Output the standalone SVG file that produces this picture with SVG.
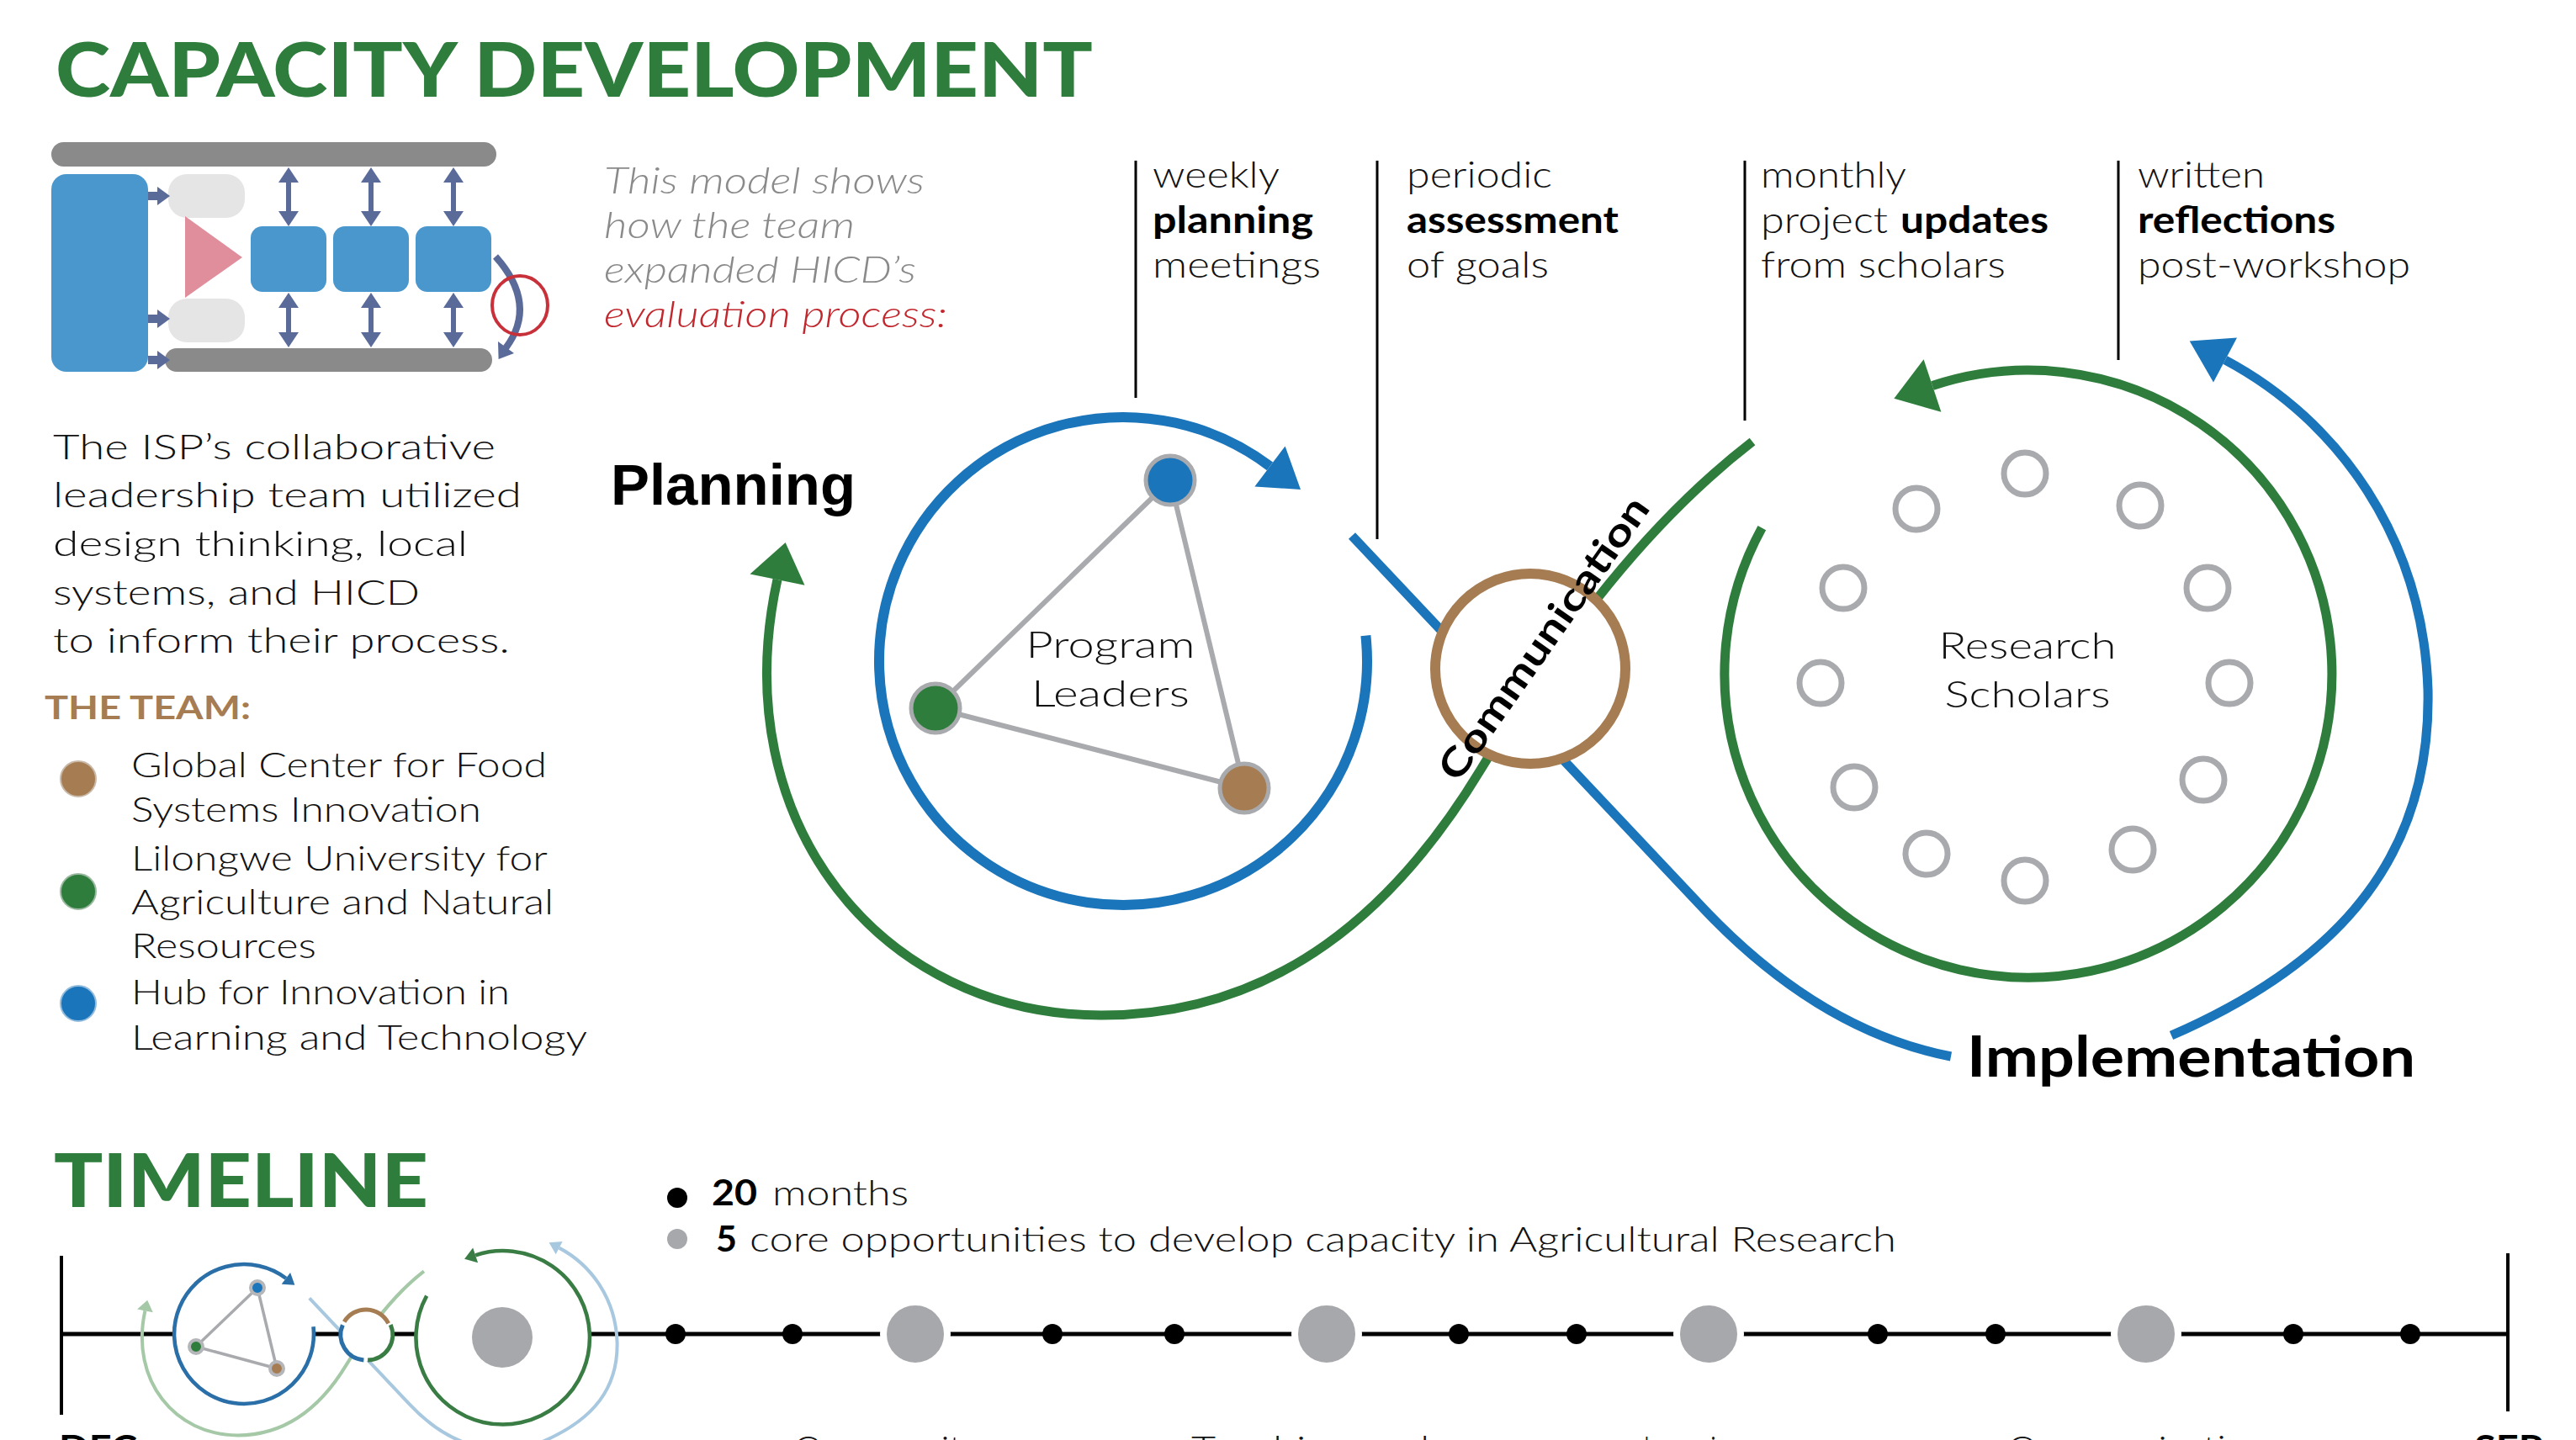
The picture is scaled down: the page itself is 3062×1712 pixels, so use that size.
<svg xmlns="http://www.w3.org/2000/svg" xmlns:xlink="http://www.w3.org/1999/xlink" width="3062" height="1712" viewBox="0 0 3062 1712">
<style>
.lt{font-family:Lato,'Open Sans','Liberation Sans',sans-serif;font-weight:300;fill:#111}
.bd{font-family:Lato,'Open Sans','Liberation Sans',sans-serif;font-weight:700;fill:#000}
.ttl{font-family:Lato,'Liberation Sans',sans-serif;font-weight:900;fill:#2e7d3c}
.ar{font-family:'Liberation Sans',Arial,sans-serif;font-weight:700;fill:#000}
.vl{stroke:#000;stroke-width:3;fill:none}
.edge{stroke:#a9aaad;stroke-width:6;fill:none}
.node{stroke:#a9aaad;stroke-width:5}
.sch{fill:none;stroke:#a9aaad;stroke-width:7}
.icoar{fill:#5a6a99}
</style>
<defs>
<path id="p-bluearc" d="M 1623.4,755.7 A 290 290 0 1 1 1509.5,554.4"/>
<polygon id="p-bluehead" points="1527.6,530.4 1491.4,578.4 1546,582"/>
<path id="p-greenS" d="M 924,689 C 860,980 1050,1207 1309,1207 C 1520,1207 1660,1080 1760,915 C 1860,750 1960,620 2083,525"/>
<polygon id="p-greenShead" points="933.6,645 891.5,682.5 956.5,695.7"/>
<path id="p-blueS1" d="M 1607,637 L 2020,1075 Q 2160,1225 2319,1256"/>
<path id="p-blueS2" d="M 2581,1231 C 2790,1140 2890,1010 2886,820 C 2880,640 2780,500 2645,428"/>
<polygon id="p-blueShead" points="2602.7,405.4 2659,401.5 2631,454.5"/>
<path id="p-greenarc" d="M 2094.3,627.6 A 361 361 0 1 0 2297,458.5"/>
<polygon id="p-greenhead" points="2251.4,473.7 2307.4,489.8 2286.6,427.2"/>
</defs>
<rect width="3062" height="1712" fill="#fff"/>

<text class="ttl" x="66" y="115" font-size="90" textLength="1233" lengthAdjust="spacingAndGlyphs">CAPACITY DEVELOPMENT</text>

<g id="model-icon">
<rect x="61" y="169" width="529" height="29" rx="14.5" fill="#8a8a8a"/>
<rect x="196" y="414" width="389" height="28" rx="14" fill="#8a8a8a"/>
<rect x="61" y="207" width="115" height="235" rx="18" fill="#4a97cd"/>
<rect x="200" y="207" width="91" height="52" rx="22" fill="#e5e5e6"/>
<rect x="200" y="355" width="91" height="52" rx="22" fill="#e5e5e6"/>
<polygon points="220,257 288,306 220,354" fill="#e18e9c"/>
<rect x="298" y="269" width="90" height="78" rx="14" fill="#4a97cd"/>
<rect x="396" y="269" width="90" height="78" rx="14" fill="#4a97cd"/>
<rect x="494" y="269" width="90" height="78" rx="14" fill="#4a97cd"/>
<g class="icoar">
<rect x="176" y="228" width="13" height="10"/><polygon points="187,222 202,233 187,244"/>
<rect x="176" y="374" width="13" height="10"/><polygon points="187,368 202,379 187,390"/>
<rect x="176" y="423" width="13" height="10"/><polygon points="187,417 202,428 187,439"/>
<rect x="340" y="214" width="6" height="40"/><polygon points="331,217 343,199 355,217"/><polygon points="331,251 343,269 355,251"/>
<rect x="438" y="214" width="6" height="40"/><polygon points="429,217 441,199 453,217"/><polygon points="429,251 441,269 453,251"/>
<rect x="536" y="214" width="6" height="40"/><polygon points="527,217 539,199 551,217"/><polygon points="527,251 539,269 551,251"/>
<rect x="340" y="363" width="6" height="35"/><polygon points="331,366 343,348 355,366"/><polygon points="331,395 343,413 355,395"/>
<rect x="438" y="363" width="6" height="35"/><polygon points="429,366 441,348 453,366"/><polygon points="429,395 441,413 453,395"/>
<rect x="536" y="363" width="6" height="35"/><polygon points="527,366 539,348 551,366"/><polygon points="527,395 539,413 551,395"/>
</g>
<path d="M 589,305 Q 640,362 601,414" fill="none" stroke="#5a6a99" stroke-width="8"/>
<polygon points="592.6,427 611,420 592,406" fill="#5a6a99"/>
<ellipse cx="618" cy="363" rx="33" ry="35" fill="none" stroke="#c8303a" stroke-width="4"/>
</g>

<g id="intro-text" class="lt" font-size="44" font-style="italic">
<text x="718" y="230" fill="#8a8a8a" style="fill:#8a8a8a" textLength="381" lengthAdjust="spacingAndGlyphs">This model shows</text>
<text x="718" y="283" style="fill:#8a8a8a" textLength="298" lengthAdjust="spacingAndGlyphs">how the team</text>
<text x="718" y="336" style="fill:#8a8a8a" textLength="371" lengthAdjust="spacingAndGlyphs">expanded HICD’s</text>
<text x="718" y="389" style="fill:#c1272d" textLength="408" lengthAdjust="spacingAndGlyphs">evaluation process:</text>
</g>

<g id="columns" font-size="43">
<line class="vl" x1="1350" y1="191" x2="1350" y2="473"/>
<line class="vl" x1="1637" y1="191" x2="1637" y2="641"/>
<line class="vl" x1="2074" y1="191" x2="2074" y2="500"/>
<line class="vl" x1="2518" y1="191" x2="2518" y2="428"/>
<text class="lt" x="1370" y="223" textLength="151" lengthAdjust="spacingAndGlyphs">weekly</text>
<text class="bd" x="1370" y="277" textLength="191" lengthAdjust="spacingAndGlyphs">planning</text>
<text class="lt" x="1370" y="330" textLength="200" lengthAdjust="spacingAndGlyphs">meetings</text>
<text class="lt" x="1672" y="223" textLength="173" lengthAdjust="spacingAndGlyphs">periodic</text>
<text class="bd" x="1672" y="277" textLength="252" lengthAdjust="spacingAndGlyphs">assessment</text>
<text class="lt" x="1672" y="330" textLength="169" lengthAdjust="spacingAndGlyphs">of goals</text>
<text class="lt" x="2093" y="223" textLength="173" lengthAdjust="spacingAndGlyphs">monthly</text>
<text class="lt" x="2093" y="277" textLength="151" lengthAdjust="spacingAndGlyphs">project</text>
<text class="bd" x="2259" y="277" textLength="176" lengthAdjust="spacingAndGlyphs">updates</text>
<text class="lt" x="2093" y="330" textLength="291" lengthAdjust="spacingAndGlyphs">from scholars</text>
<text class="lt" x="2541" y="223" textLength="151" lengthAdjust="spacingAndGlyphs">written</text>
<text class="bd" x="2541" y="277" textLength="235" lengthAdjust="spacingAndGlyphs">reflections</text>
<text class="lt" x="2541" y="330" textLength="324" lengthAdjust="spacingAndGlyphs">post-workshop</text>
</g>

<g id="intro-paragraph" class="lt" font-size="42">
<text x="63" y="546" textLength="526" lengthAdjust="spacingAndGlyphs">The ISP’s collaborative</text>
<text x="63" y="603" textLength="557" lengthAdjust="spacingAndGlyphs">leadership team utilized</text>
<text x="63" y="661" textLength="493" lengthAdjust="spacingAndGlyphs">design thinking, local</text>
<text x="63" y="719" textLength="436" lengthAdjust="spacingAndGlyphs">systems, and HICD</text>
<text x="63" y="776" textLength="543" lengthAdjust="spacingAndGlyphs">to inform their process.</text>
</g>

<g id="team-legend">
<text class="bd" x="53" y="855" font-size="39" style="fill:#a67c52" textLength="245" lengthAdjust="spacingAndGlyphs">THE TEAM:</text>
<circle cx="93" cy="926" r="21" fill="#a67c52" stroke="#c9b9a8" stroke-width="2"/>
<circle cx="93" cy="1060" r="21" fill="#2e7d3c" stroke="#9bb9a0" stroke-width="2"/>
<circle cx="93" cy="1193" r="21" fill="#1a75bb" stroke="#94bcdc" stroke-width="2"/>
<g class="lt" font-size="42">
<text x="156" y="924" textLength="494" lengthAdjust="spacingAndGlyphs">Global Center for Food</text>
<text x="156" y="977" textLength="416" lengthAdjust="spacingAndGlyphs">Systems Innovation</text>
<text x="156" y="1035" textLength="495" lengthAdjust="spacingAndGlyphs">Lilongwe University for</text>
<text x="156" y="1087" textLength="502" lengthAdjust="spacingAndGlyphs">Agriculture and Natural</text>
<text x="156" y="1139" textLength="220" lengthAdjust="spacingAndGlyphs">Resources</text>
<text x="156" y="1194" textLength="450" lengthAdjust="spacingAndGlyphs">Hub for Innovation in</text>
<text x="156" y="1248" textLength="542" lengthAdjust="spacingAndGlyphs">Learning and Technology</text>
</g>
</g>

<g id="connectors">
<use xlink:href="#p-greenS" fill="none" stroke="#2e7d3c" stroke-width="11"/>
<use xlink:href="#p-greenShead" fill="#2e7d3c"/>
<use xlink:href="#p-blueS1" fill="none" stroke="#1a75bb" stroke-width="11"/>
<use xlink:href="#p-blueS2" fill="none" stroke="#1a75bb" stroke-width="11"/>
<use xlink:href="#p-blueShead" fill="#1a75bb"/>
<use xlink:href="#p-bluearc" fill="none" stroke="#1a75bb" stroke-width="12"/>
<use xlink:href="#p-bluehead" fill="#1a75bb"/>
<use xlink:href="#p-greenarc" fill="none" stroke="#2e7d3c" stroke-width="11"/>
<use xlink:href="#p-greenhead" fill="#2e7d3c"/>
<line class="edge" x1="1391" y1="571" x2="1112" y2="842"/>
<line class="edge" x1="1391" y1="571" x2="1479" y2="937"/>
<line class="edge" x1="1112" y1="842" x2="1479" y2="937"/>
</g>

<g id="program-leaders">
<circle class="node" cx="1391" cy="571" r="29" fill="#1a75bb"/>
<circle class="node" cx="1112" cy="842" r="29" fill="#2e7d3c"/>
<circle class="node" cx="1479" cy="937" r="29" fill="#a67c52"/>
<text class="lt" x="1320" y="782" font-size="44" text-anchor="middle" textLength="201" lengthAdjust="spacingAndGlyphs">Program</text>
<text class="lt" x="1320" y="840" font-size="44" text-anchor="middle" textLength="188" lengthAdjust="spacingAndGlyphs">Leaders</text>
</g>

<g id="research-scholars">
<circle class="sch" cx="2407" cy="563" r="25"/>
<circle class="sch" cx="2544" cy="601" r="25"/>
<circle class="sch" cx="2624" cy="699" r="25"/>
<circle class="sch" cx="2650" cy="812" r="25"/>
<circle class="sch" cx="2619" cy="927" r="25"/>
<circle class="sch" cx="2535" cy="1010" r="25"/>
<circle class="sch" cx="2407" cy="1047" r="25"/>
<circle class="sch" cx="2290" cy="1015" r="25"/>
<circle class="sch" cx="2204" cy="936" r="25"/>
<circle class="sch" cx="2164" cy="812" r="25"/>
<circle class="sch" cx="2191" cy="699" r="25"/>
<circle class="sch" cx="2278" cy="605" r="25"/>
<text class="lt" x="2410" y="783" font-size="44" text-anchor="middle" textLength="211" lengthAdjust="spacingAndGlyphs">Research</text>
<text class="lt" x="2410" y="841" font-size="44" text-anchor="middle" textLength="197" lengthAdjust="spacingAndGlyphs">Scholars</text>
</g>

<g id="communication">
<circle cx="1819" cy="795" r="113" fill="#fff" stroke="#a67c52" stroke-width="12"/>
<text class="bd" x="1848" y="768" font-size="46" text-anchor="middle" transform="rotate(-55 1848 768)" textLength="400" lengthAdjust="spacingAndGlyphs">Communication</text>
</g>

<text id="planning" class="ar" x="726" y="600" font-size="68" textLength="291" lengthAdjust="spacingAndGlyphs">Planning</text>
<text id="implementation" class="bd" x="2338" y="1280" font-size="66" textLength="533" lengthAdjust="spacingAndGlyphs">Implementation</text>

<text class="ttl" x="64" y="1435" font-size="88" textLength="445" lengthAdjust="spacingAndGlyphs">TIMELINE</text>

<g id="timeline-legend" font-size="42">
<circle cx="805" cy="1424" r="12" fill="#000"/>
<text class="bd" x="846" y="1433" textLength="54" lengthAdjust="spacingAndGlyphs">20</text>
<text class="lt" x="918" y="1433" textLength="162" lengthAdjust="spacingAndGlyphs">months</text>
<circle cx="805" cy="1473" r="12" fill="#a7a8ab"/>
<text class="bd" x="851" y="1488" textLength="25" lengthAdjust="spacingAndGlyphs">5</text>
<text class="lt" x="891" y="1488" textLength="1363" lengthAdjust="spacingAndGlyphs">core opportunities to develop capacity in Agricultural Research</text>
</g>

<g id="timeline">
<line x1="73" y1="1586" x2="2980" y2="1586" stroke="#000" stroke-width="5"/>
<line x1="73" y1="1493" x2="73" y2="1682" stroke="#000" stroke-width="4"/>
<line x1="2981" y1="1490" x2="2981" y2="1678" stroke="#000" stroke-width="4"/>
<g fill="#000">
<circle cx="803" cy="1586" r="12"/><circle cx="942" cy="1586" r="12"/>
<circle cx="1251" cy="1586" r="12"/><circle cx="1396" cy="1586" r="12"/>
<circle cx="1734" cy="1586" r="12"/><circle cx="1874" cy="1586" r="12"/>
<circle cx="2232" cy="1586" r="12"/><circle cx="2372" cy="1586" r="12"/>
<circle cx="2726" cy="1586" r="12"/><circle cx="2865" cy="1586" r="12"/>
</g>
<g fill="#a7a8ab" stroke="#fff" stroke-width="8">
<circle cx="1088" cy="1586" r="38"/><circle cx="1577" cy="1586" r="38"/>
<circle cx="2031" cy="1586" r="38"/><circle cx="2551" cy="1586" r="38"/>
</g>
</g>

<g id="timeline-icon">
<g transform="translate(290,1586) scale(0.286) translate(-1335,-786)">
<circle cx="1335" cy="786" r="290" fill="#fff"/>
<circle cx="2411" cy="801" r="361" fill="#fff"/>
<use xlink:href="#p-greenS" fill="none" stroke="#a5c8a7" stroke-width="14"/>
<use xlink:href="#p-greenShead" fill="#a5c8a7"/>
<use xlink:href="#p-blueS1" fill="none" stroke="#a8c8e0" stroke-width="14"/>
<path d="M 2319,1256 C 2420,1280 2500,1265 2581,1231" fill="none" stroke="#a8c8e0" stroke-width="14"/>
<use xlink:href="#p-blueS2" fill="none" stroke="#a8c8e0" stroke-width="14"/>
<use xlink:href="#p-blueShead" fill="#a8c8e0"/>
<use xlink:href="#p-bluearc" fill="none" stroke="#2b6fa8" stroke-width="16"/>
<use xlink:href="#p-bluehead" fill="#2b6fa8"/>
<use xlink:href="#p-greenarc" fill="none" stroke="#3a7d44" stroke-width="16"/>
<use xlink:href="#p-greenhead" fill="#3a7d44"/>
</g>
<circle cx="597" cy="1590" r="36" fill="#a7a8ab"/>
<circle cx="435" cy="1587" r="31" fill="#fff"/>
<path d="M 409.2,1571.5 A 30 30 0 0 1 461.7,1573.3" fill="none" stroke="#a67c52" stroke-width="5"/>
<path d="M 464.3,1575.1 A 30 30 0 0 1 437.1,1617" fill="none" stroke="#3a7d44" stroke-width="5"/>
<path d="M 432.4,1616.9 A 30 30 0 0 1 407.3,1575.3" fill="none" stroke="#2b6fa8" stroke-width="5"/>
<line x1="306" y1="1531" x2="233" y2="1601" stroke="#a9aaad" stroke-width="3.5"/>
<line x1="306" y1="1531" x2="329" y2="1627" stroke="#a9aaad" stroke-width="3.5"/>
<line x1="233" y1="1601" x2="329" y2="1627" stroke="#a9aaad" stroke-width="3.5"/>
<circle cx="306" cy="1531" r="8" fill="#1a75bb" stroke="#b5b6b9" stroke-width="4"/>
<circle cx="233" cy="1601" r="8" fill="#2e7d3c" stroke="#b5b6b9" stroke-width="4"/>
<circle cx="329" cy="1627" r="8" fill="#a67c52" stroke="#b5b6b9" stroke-width="4"/>
</g>

<g id="timeline-labels" font-size="42">
<text class="bd" x="70" y="1737" textLength="93" lengthAdjust="spacingAndGlyphs">DEC</text>
<text class="lt" x="943" y="1737" textLength="223" lengthAdjust="spacingAndGlyphs">Community</text>
<text class="lt" x="1416" y="1737" textLength="283" lengthAdjust="spacingAndGlyphs">Teaching and</text>
<text class="lt" x="1953" y="1737" textLength="123" lengthAdjust="spacingAndGlyphs">Learning</text>
<text class="lt" x="2386" y="1737" textLength="310" lengthAdjust="spacingAndGlyphs">Communication</text>
<text class="bd" x="2941" y="1737" textLength="82" lengthAdjust="spacingAndGlyphs">SEP</text>
</g>
</svg>
